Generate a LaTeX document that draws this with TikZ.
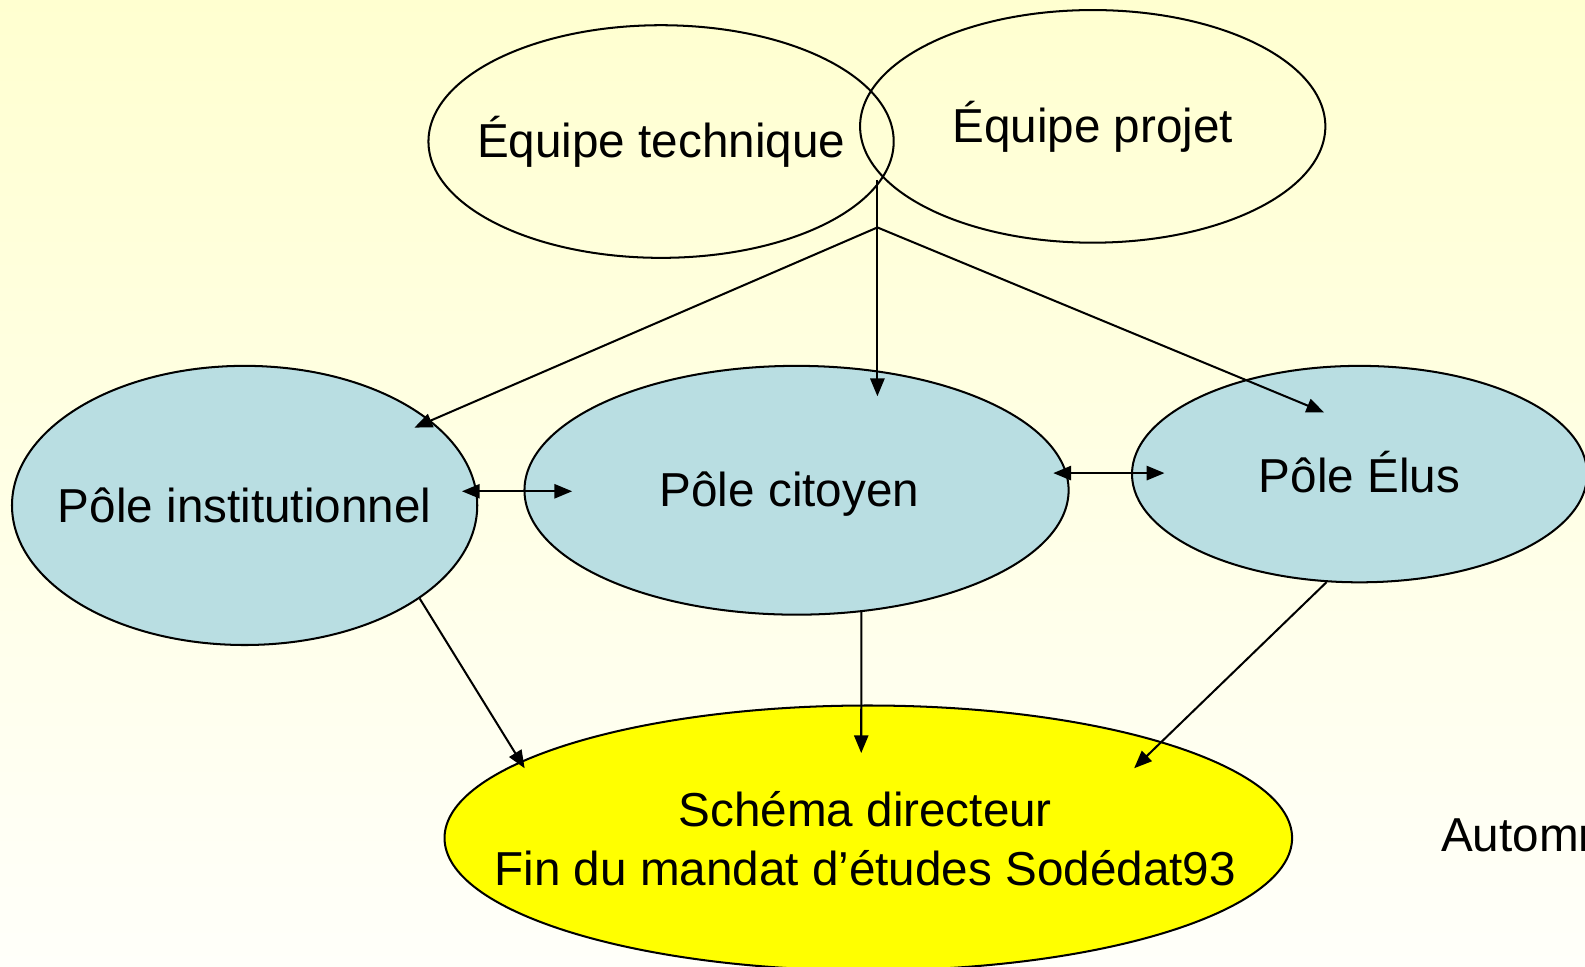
\documentclass[tikz,border=0pt]{standalone}
\usepackage{fontspec}
\setmainfont{Liberation Sans}
\usetikzlibrary{positioning}
\usetikzlibrary{arrows.meta, shapes.geometric, calc}

\definecolor{bgtop}{RGB}{255,255,208}
\definecolor{bgbot}{RGB}{255,255,250}
\definecolor{polecol}{RGB}{185,222,226}
\definecolor{schemacol}{RGB}{255,255,0}

\tikzset{
    base/.style={draw, ellipse, line width=0.02cm, inner sep=0pt},
    equipe/.style={base, minimum width=4.6cm, minimum height=2.3cm},
    pole/.style={base, fill=polecol},
    arr/.style={-{Triangle[length=5pt, width=4pt]}, line width=0.02cm},
    darr/.style={{Triangle[length=5pt, width=4pt]}-{Triangle[length=5pt, width=4pt]}, line width=0.02cm}
}

\begin{document}
\begin{tikzpicture}[x=0.01cm, y=-0.01cm, font=\fontsize{13.4}{16.5}\selectfont]
    % Background
    \shade[top color=bgtop, bottom color=bgbot] (0,0) rectangle (1568,956.5);
    \useasboundingbox (0,0) rectangle (1568,956.5);

    % Nodes
    \node[equipe, label=center:Équipe technique] (tech) at (654,140) {};
    \node[equipe, label=center:Équipe projet] (projet) at (1081,125) {};

    \node[pole, minimum width=4.6cm, minimum height=2.76cm, label=center:Pôle institutionnel] 
        (inst) at (242,500) {};
    \node[pole, minimum width=5.38cm, minimum height=2.46cm, label={[xshift=-0.07cm, yshift=-0.04cm]center:Pôle citoyen}] 
        (cit) at (788,485) {};
    \node[pole, minimum width=4.5cm, minimum height=2.14cm, label={[yshift=0.02cm]center:Pôle Élus}] 
        (elus) at (1345,469) {};

    \node[base, fill=schemacol, minimum width=8.38cm, minimum height=2.62cm,
        label={[align=center, xshift=-0.03cm, yshift=-0.01cm]center:Schéma directeur\\ Fin du mandat d’études Sodédat93}] 
        (schema) at (859,829) {};

    \node[anchor=base west, inner sep=0pt] 
        (date) at (1425,842) {Automn};

    % Connector points
    \coordinate (top) at (868,178);
    \coordinate (hub) at (868,225);
    \coordinate (tipInst) at (410,423);
    \coordinate (tipCit) at (868,392);
    \coordinate (tipElus) at (1310,408);
    \coordinate (instR) at (457,486);
    \coordinate (citL) at (566,486);
    \coordinate (citR) at (1042,468);
    \coordinate (elusL) at (1152,468);
    \coordinate (tipA) at (519,760);
    \coordinate (tipB) at (852,745);
    \coordinate (tipC) at (1122,760);

    % Arrows
    \draw[arr] (top) -- (tipCit);
    \draw[arr] (hub) -- (tipInst);
    \draw[arr] (hub) -- (tipElus);
    \draw[darr] (instR) -- (citL);
    \draw[darr] (citR) -- (elusL);
    \draw[arr] (inst.-28.7) -- (tipA);
    \draw[arr] (cit.-62.3) -- (tipB);
    \draw[arr] (elus.-107.6) -- (tipC);
\end{tikzpicture}
\end{document}
